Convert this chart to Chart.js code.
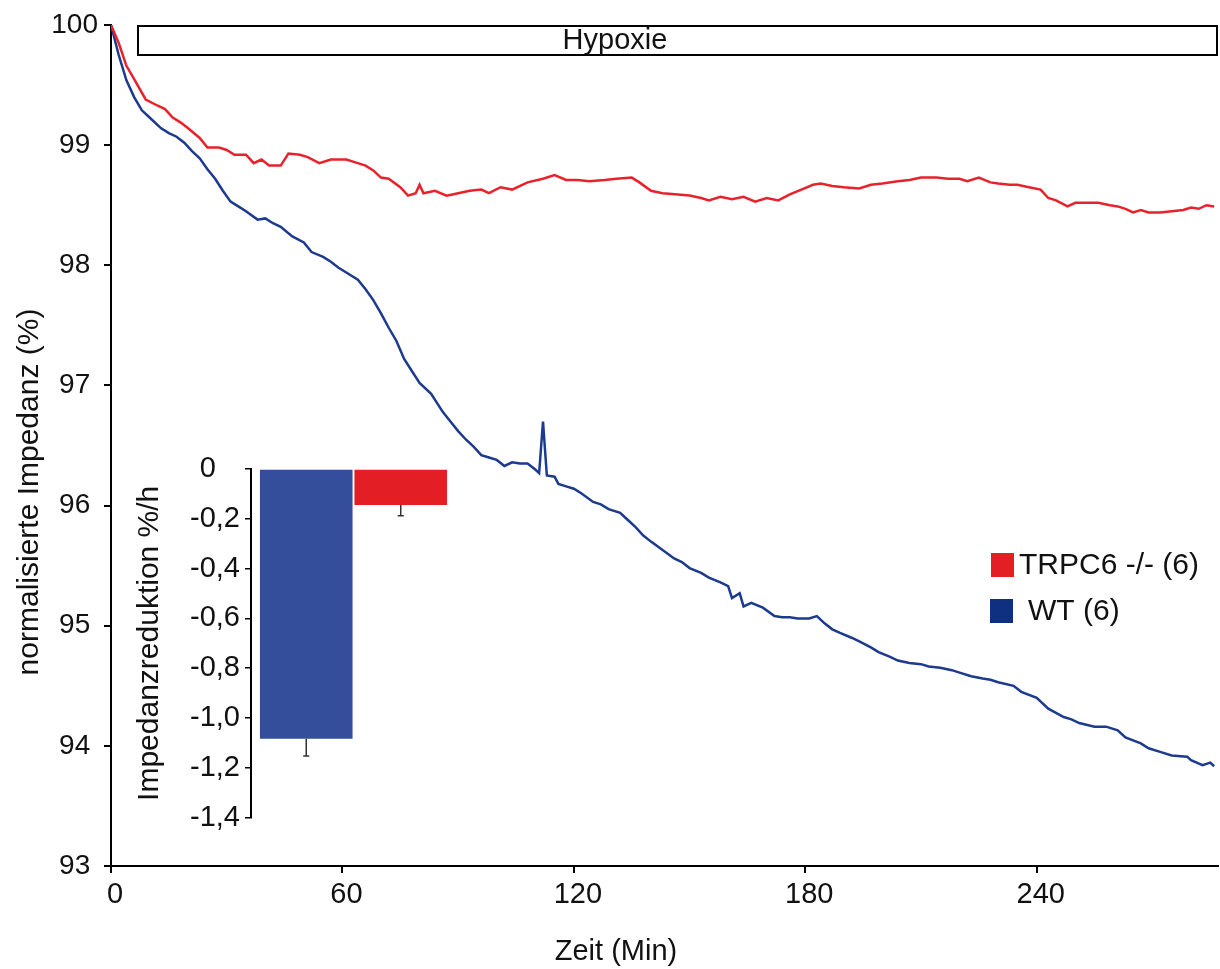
<!DOCTYPE html>
<html>
<head>
<meta charset="utf-8">
<title>Impedanz Hypoxie</title>
<script src="https://cdn.jsdelivr.net/npm/chart.js@4.4.0/dist/chart.umd.min.js"></script>
<style>
  html, body { margin: 0; padding: 0; background: #fff; }
  #wrap { position: relative; width: 1220px; height: 969px; }
  #mainChart { position: absolute; left: 0; top: 0; }
  #insetChart { position: absolute; left: 130px; top: 440px; }
</style>
</head>
<body>
<div id="wrap">
  <canvas id="mainChart" width="1220" height="969"></canvas>
  <canvas id="insetChart" width="340" height="400"></canvas>
</div>
<script>
// --- data ---
const redTime = [0, 2, 4, 6, 9, 12, 14, 16, 18, 20, 23, 25, 28, 30, 32, 35, 37, 39, 41, 44, 46, 49, 51, 54, 57, 61, 64, 66, 68, 70, 72, 75, 77, 79, 80, 81, 84, 87, 90, 93, 96, 98, 101, 104, 108, 112, 115, 118, 121, 124, 128, 131, 135, 137, 140, 143, 147, 150, 153, 155, 158, 161, 164, 167, 170, 173, 176, 179, 182, 184, 187, 190, 194, 197, 200, 204, 207, 210, 214, 217, 220, 222, 225, 228, 230, 233, 235, 238, 241, 243, 245, 248, 250, 253, 256, 259, 261, 263, 265, 267, 269, 272, 275, 278, 280, 282, 284, 286];
const redValue = [100, 99.85, 99.66, 99.55, 99.38, 99.33, 99.3, 99.23, 99.19, 99.14, 99.06, 98.98, 98.98, 98.96, 98.92, 98.92, 98.85, 98.88, 98.83, 98.83, 98.93, 98.92, 98.9, 98.85, 98.88, 98.88, 98.85, 98.83, 98.79, 98.73, 98.72, 98.65, 98.58, 98.6, 98.67, 98.6, 98.62, 98.58, 98.6, 98.62, 98.63, 98.6, 98.65, 98.63, 98.69, 98.72, 98.75, 98.71, 98.71, 98.7, 98.71, 98.72, 98.73, 98.69, 98.62, 98.6, 98.59, 98.58, 98.56, 98.54, 98.57, 98.55, 98.57, 98.53, 98.56, 98.54, 98.59, 98.63, 98.67, 98.68, 98.66, 98.65, 98.64, 98.67, 98.68, 98.7, 98.71, 98.73, 98.73, 98.72, 98.72, 98.7, 98.73, 98.69, 98.68, 98.67, 98.67, 98.65, 98.63, 98.56, 98.54, 98.49, 98.52, 98.52, 98.52, 98.5, 98.49, 98.47, 98.44, 98.46, 98.44, 98.44, 98.45, 98.46, 98.48, 98.47, 98.5, 98.49];

const blueTime = [0, 2, 4, 6, 8, 10, 13, 15, 17, 19, 21, 23, 25, 27, 29, 31, 33, 35, 38, 40, 42, 44, 47, 50, 52, 55, 57, 59, 61, 64, 66, 68, 70, 72, 74, 76, 78, 80, 83, 86, 88, 90, 92, 94, 96, 98, 100, 102, 104, 106, 108, 110, 111, 112, 113, 115, 116, 118, 120, 122, 125, 127, 129, 132, 134, 136, 138, 140, 143, 146, 148, 150, 153, 155, 158, 160, 161, 163, 164, 166, 169, 172, 174, 176, 178, 181, 183, 185, 187, 189, 192, 194, 197, 199, 202, 204, 207, 210, 212, 215, 218, 220, 223, 226, 228, 230, 234, 236, 240, 243, 247, 249, 251, 255, 258, 261, 263, 267, 269, 272, 275, 279, 280, 283, 285, 286];
const blueValue = [100, 99.75, 99.54, 99.4, 99.29, 99.23, 99.14, 99.1, 99.07, 99.02, 98.95, 98.89, 98.8, 98.72, 98.62, 98.53, 98.49, 98.45, 98.38, 98.39, 98.35, 98.32, 98.24, 98.19, 98.11, 98.07, 98.03, 97.98, 97.94, 97.88, 97.8, 97.71, 97.6, 97.48, 97.37, 97.22, 97.12, 97.02, 96.93, 96.78, 96.7, 96.62, 96.55, 96.49, 96.42, 96.4, 96.38, 96.33, 96.36, 96.35, 96.35, 96.3, 96.27, 96.7, 96.25, 96.24, 96.18, 96.16, 96.14, 96.1, 96.03, 96.01, 95.97, 95.94, 95.88, 95.82, 95.75, 95.7, 95.63, 95.56, 95.53, 95.48, 95.44, 95.4, 95.36, 95.33, 95.23, 95.27, 95.16, 95.19, 95.15, 95.08, 95.07, 95.07, 95.06, 95.06, 95.08, 95.02, 94.97, 94.94, 94.9, 94.87, 94.82, 94.78, 94.74, 94.71, 94.69, 94.68, 94.66, 94.65, 94.63, 94.61, 94.58, 94.56, 94.55, 94.53, 94.5, 94.45, 94.4, 94.31, 94.24, 94.22, 94.19, 94.16, 94.16, 94.13, 94.07, 94.02, 93.98, 93.95, 93.92, 93.91, 93.88, 93.84, 93.86, 93.83];

const xTicks = [0, 60, 120, 180, 240];
const yTicks = [93, 94, 95, 96, 97, 98, 99, 100];
const hypoxiaStart = 7;

// inset: Impedanzreduktion per hour
const barLabels = ['WT (6)', 'TRPC6 -/- (6)'];
const barValues = [-1.083, -0.145];
const barErrors = [0.07, 0.043];

const FONT = '"Liberation Sans", Arial, sans-serif';
const RED = '#E8222B';
const BLUE = '#1C3A8E';

const toPoints = (xs, ys) => xs.map((x, i) => ({ x, y: ys[i] }));

const overlay = {
    id: 'overlay',
    afterDraw(chart) {
        const { ctx, chartArea, scales: { x, y } } = chart;
        ctx.save();
        // Hypoxie bar
        const left = x.getPixelForValue(hypoxiaStart);
        const top = y.getPixelForValue(100);
        ctx.strokeStyle = '#000';
        ctx.lineWidth = 2;
        ctx.strokeRect(left, top + 1, chartArea.right - left - 1, 29);
        ctx.fillStyle = '#111';
        ctx.font = `29px ${FONT}`;
        ctx.textAlign = 'center';
        ctx.textBaseline = 'middle';
        ctx.fillText('Hypoxie', 615, top + 16);
        // axis titles
        ctx.fillText('Zeit (Min)', 616, 952);
        ctx.save();
        ctx.translate(30, 492);
        ctx.rotate(-Math.PI / 2);
        ctx.font = `30px ${FONT}`;
        ctx.fillText('normalisierte Impedanz (%)', 0, 0);
        ctx.restore();
        // legend
        ctx.textAlign = 'left';
        ctx.font = `30px ${FONT}`;
        ctx.fillStyle = '#E31E24';
        ctx.fillRect(991, 553, 23, 24);
        ctx.fillStyle = '#0F2F80';
        ctx.fillRect(990, 599, 23, 24);
        ctx.fillStyle = '#111';
        ctx.fillText(barLabels[1], 1019, 566);
        ctx.fillText(barLabels[0], 1028, 612);
        ctx.restore();
    }
};

new Chart(document.getElementById('mainChart'), {
    type: 'line',
    data: {
        datasets: [
            { label: barLabels[1], data: toPoints(redTime, redValue), borderColor: RED, borderWidth: 2.5, pointRadius: 0, tension: 0 },
            { label: barLabels[0], data: toPoints(blueTime, blueValue), borderColor: BLUE, borderWidth: 2.5, pointRadius: 0, tension: 0 },
        ]
    },
    options: {
        responsive: false, animation: false,
        layout: { padding: { top: 25, right: 2, left: 0, bottom: 0 } },
        plugins: { legend: { display: false }, tooltip: { enabled: false } },
        scales: {
            x: {
                type: 'linear', min: 0, max: 287,
                afterBuildTicks: s => { s.ticks = xTicks.map(v => ({ value: v })); },
                afterFit: s => { s.height = 103; },
                grid: { drawOnChartArea: false, tickLength: 7, color: '#000', lineWidth: 2 },
                border: { color: '#000', width: 2 },
                ticks: { color: '#111', font: { family: FONT, size: 29 }, padding: 5, maxRotation: 0, labelOffset: 4 }
            },
            y: {
                min: 93, max: 100,
                afterBuildTicks: s => { s.ticks = yTicks.map(v => ({ value: v })); },
                afterFit: s => { s.width = 111; },
                grid: { drawOnChartArea: false, tickLength: 7, color: '#000', lineWidth: 2 },
                border: { color: '#000', width: 2 },
                ticks: { color: '#111', font: { family: FONT, size: 28 }, padding: 6, crossAlign: 'center' }
            }
        }
    },
    plugins: [overlay]
});

const errorBars = {
    id: 'errorBars',
    afterDatasetsDraw(chart) {
        const { ctx, scales: { y } } = chart;
        ctx.save();
        ctx.strokeStyle = '#333';
        ctx.lineWidth = 1.5;
        chart.data.datasets.forEach((ds, i) => {
            const bar = chart.getDatasetMeta(i).data[0];
            const yEnd = y.getPixelForValue(barValues[i] - barErrors[i]);
            ctx.beginPath();
            ctx.moveTo(bar.x, bar.y);
            ctx.lineTo(bar.x, yEnd);
            ctx.moveTo(bar.x - 3, yEnd);
            ctx.lineTo(bar.x + 3, yEnd);
            ctx.stroke();
        });
        ctx.restore();
    }
};

// decimal-aligned labels: "0" keeps the room of ",0"
const commaFmt = v => Math.abs(v) < 1e-9 ? '0\u2008\u2007' : v.toFixed(1).replace('.', ',');

new Chart(document.getElementById('insetChart'), {
    type: 'bar',
    data: {
        labels: [''],
        datasets: [
            { label: barLabels[0], data: [barValues[0]], backgroundColor: '#354E9B' },
            { label: barLabels[1], data: [barValues[1]], backgroundColor: '#E31E24' },
        ]
    },
    options: {
        responsive: false, animation: false,
        layout: { padding: { top: 29, right: 14, left: 0, bottom: 22 } },
        datasets: { bar: { barPercentage: 0.98, categoryPercentage: 0.922 } },
        plugins: { legend: { display: false }, tooltip: { enabled: false } },
        scales: {
            x: { display: false },
            y: {
                min: -1.4, max: 0,
                afterFit: s => { s.width = 121; },
                grid: { drawOnChartArea: false, tickLength: 6, color: '#000', lineWidth: 1.5 },
                border: { color: '#000', width: 2 },
                ticks: { stepSize: 0.2, callback: commaFmt, color: '#111', font: { family: FONT, size: 29 }, padding: 5 },
                title: { display: true, text: 'Impedanzreduktion %/h', color: '#111', font: { family: FONT, size: 30 }, padding: { top: 2, bottom: 0 } }
            }
        }
    },
    plugins: [errorBars]
});
</script>
</body>
</html>
